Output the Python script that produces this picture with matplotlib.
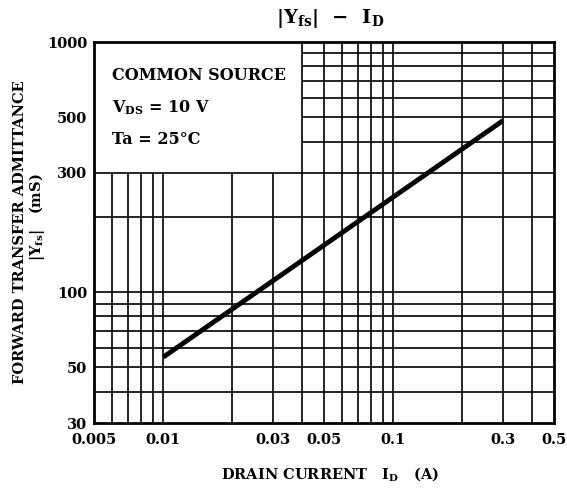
import matplotlib
matplotlib.use('Agg')
import matplotlib.pyplot as plt

# data
id_a = [0.01, 0.3]
yfs_ms = [55, 485]

x_grid = [0.006, 0.007, 0.008, 0.009, 0.01, 0.02, 0.03, 0.04, 0.05, 0.06,
          0.07, 0.08, 0.09, 0.1, 0.2, 0.3, 0.4]
y_grid = [40, 50, 60, 70, 80, 90, 100, 200, 300, 400, 500, 600, 700, 800, 900]
x_ticks = [0.005, 0.01, 0.03, 0.05, 0.1, 0.3, 0.5]
x_ticklabels = ['0.005', '0.01', '0.03', '0.05', '0.1', '0.3', '0.5']
y_ticks = [30, 50, 100, 300, 500, 1000]
y_ticklabels = ['30', '50', '100', '300', '500', '1000']

plt.rcParams['font.family'] = ['DejaVu Serif']
plt.rcParams['font.weight'] = 'bold'
plt.rcParams['mathtext.fontset'] = 'dejavuserif'
plt.rcParams['mathtext.default'] = 'bf'

W, H = 567, 491
fig = plt.figure(figsize=(W / 100, H / 100), dpi=100)
L, R, T, B = 94, 554, 42, 423
ax = fig.add_axes([L / W, 1 - B / H, (R - L) / W, (B - T) / H])
ax.set_xscale('log')
ax.set_yscale('log')
ax.set_xlim(0.005, 0.5)
ax.set_ylim(30, 1000)

# grid (box region upper-left left blank)
for x in x_grid:
    top = 300 if x < 0.0399 else 1000
    ax.vlines(x, 30, top, color='black', lw=1.2, zorder=1)
for y in y_grid:
    x0 = 0.04 if y > 301 else 0.005
    ax.hlines(y, x0, 0.5, color='black', lw=1.2, zorder=1)

ax.plot(id_a, yfs_ms, color='black', lw=3.5, solid_capstyle='butt', zorder=3)

ax.minorticks_off()
ax.set_xticks(x_ticks)
ax.set_xticklabels(x_ticklabels)
ax.set_yticks(y_ticks)
ax.set_yticklabels(y_ticklabels)
ax.tick_params(length=0, labelsize=10.5)
ax.tick_params(axis='x', pad=7)
ax.tick_params(axis='y', pad=5)
for s in ax.spines.values():
    s.set_linewidth(2)

ax.text(0.039, 0.913, 'COMMON SOURCE', transform=ax.transAxes, fontsize=11.5,
        va='center', ha='left')
ax.text(0.039, 0.827, r'V$_{DS}$ = 10 V', transform=ax.transAxes, fontsize=11.5,
        va='center', ha='left')
ax.text(0.039, 0.743, 'Ta = 25°C', transform=ax.transAxes, fontsize=11.5,
        va='center', ha='left')

fig.text(330 / W, 1 - 18 / H, r'|Y$_{fs}$|  −  I$_{D}$', fontsize=14,
         ha='center', va='center')
fig.text(330 / W, 1 - 474 / H, r'DRAIN CURRENT   I$_{D}$   (A)', fontsize=10.5,
         ha='center', va='center')
fig.text(20 / W, 1 - 232 / H, 'FORWARD TRANSFER ADMITTANCE', fontsize=10.5,
         rotation=90, ha='center', va='center')
fig.text(37 / W, 1 - 217 / H, r'|Y$_{fs}$|   (mS)', fontsize=10.5,
         rotation=90, ha='center', va='center')

fig.savefig('out.png', dpi=100)
